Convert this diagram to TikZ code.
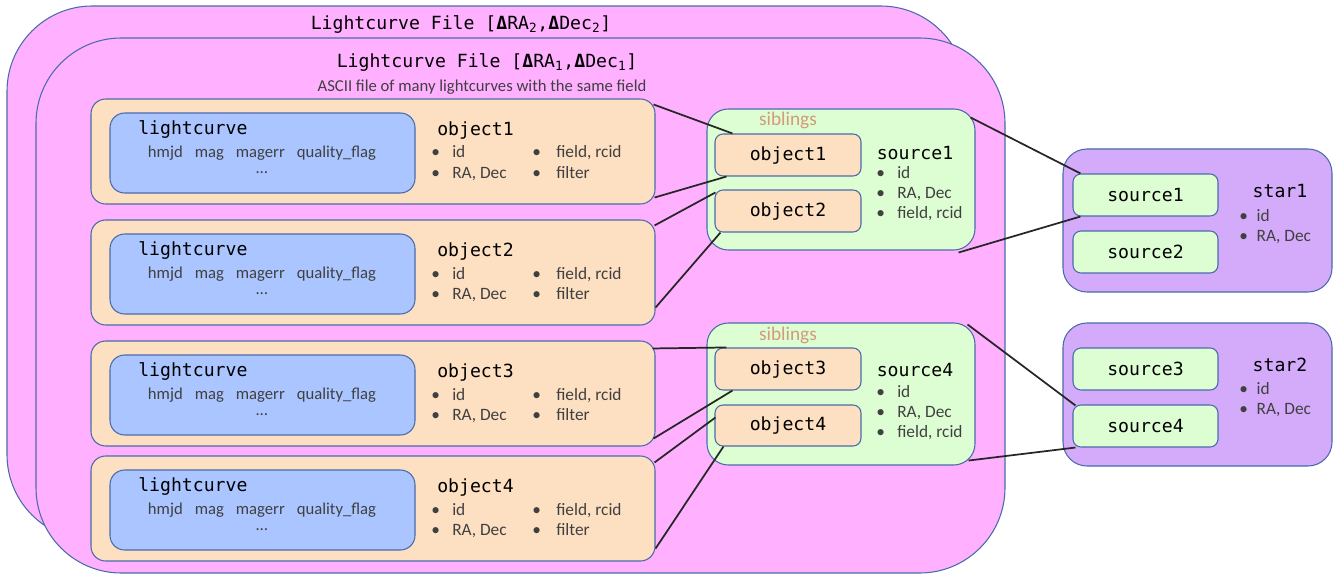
\documentclass[tikz,border=0pt]{standalone}
\usepackage{fontspec}
\setmainfont{Carlito}
\newfontfamily\monof{DejaVu Sans Mono}
\usetikzlibrary{fit,calc}
\definecolor{bord}{HTML}{4A6BAA}
\definecolor{pinkf}{HTML}{FFB0FF}
\definecolor{peach}{HTML}{FDDFC2}
\definecolor{bluef}{HTML}{AAC5FF}
\definecolor{greenf}{HTML}{DDFDD3}
\definecolor{purplef}{HTML}{D4AAFA}
\definecolor{txtgray}{HTML}{404040}
\definecolor{sibcol}{HTML}{D49A7A}
\setlength{\tabcolsep}{0pt}
\tikzset{
  box/.style={draw=bord, line width=0.8pt, inner sep=0pt},
  filebox/.style={box, fill=pinkf, rounded corners=64pt},
  rowbox/.style={box, fill=peach, rounded corners=11pt},
  lcbox/.style={box, fill=bluef, rounded corners=11pt},
  grbox/.style={box, fill=greenf, rounded corners=16pt},
  obbox/.style={box, fill=peach, rounded corners=6pt},
  stbox/.style={box, fill=purplef, rounded corners=18pt},
  srbox/.style={box, fill=greenf, rounded corners=6pt},
  mono/.style={font=\monof\fontsize{13.6}{16}\selectfont, text=black, inner sep=0pt},
  txt/.style={font=\fontsize{12.5}{15}\selectfont, text=txtgray, inner sep=0pt},
  btxt/.style={font=\fontsize{13}{15}\selectfont, text=txtgray, inner sep=0pt},
  subt/.style={font=\fontsize{12.5}{14}\selectfont, text=txtgray, inner sep=0pt},
  sibt/.style={font=\fontsize{14.5}{15}\selectfont, text=sibcol, inner sep=0pt},
  link/.style={line width=1.3pt, draw=black!85},
}
\newcommand{\twocol}[4]{\begin{tabular}[t]{@{}p{15.75pt}p{60pt}p{18pt}l@{}}•&#1&•&#3\\•&#2&•&#4\end{tabular}}
\begin{document}
\begin{tikzpicture}[x=0.75pt,y=-0.75pt]
\useasboundingbox (0,0) rectangle (1334,574);
% files
\node[filebox, fit={(7,6)(966,540)}] (fileB) {};
\node[mono] (fileBt) at (461,25) {Lightcurve File [\textbf{Δ}RA\textsubscript{2},\textbf{Δ}Dec\textsubscript{2}]};
\node[filebox, fit={(36,38)(1005,573)}] (fileA) {};
\node[mono] (fileAt) at (487,63) {Lightcurve File [\textbf{Δ}RA\textsubscript{1},\textbf{Δ}Dec\textsubscript{1}]};
\node[subt] (fileAs) at (482,87) {ASCII file of many lightcurves with the same field};
% object rows
\foreach \i/\t in {1/99,2/220,3/341,4/456}{
  \pgfmathsetmacro{\b}{\t+105}
  \pgfmathsetmacro{\lt}{\t+14}
  \pgfmathsetmacro{\lb}{\t+94}
  \pgfmathsetmacro{\ya}{\t+31}
  \pgfmathsetmacro{\yb}{\t+54}
  \pgfmathsetmacro{\yc}{\t+74}
  \pgfmathsetmacro{\yd}{\t+59}
  \node[rowbox, fit={(91,\t)(655,\b)}] (row\i) {};
  \node[lcbox, fit={(110,\lt)(415,\lb)}] (lc\i) {};
  \node[mono, anchor=west] (lct\i) at (138,\ya) {lightcurve};
  \node[txt] (lcf\i) at (262,\yb) {hmjd\hspace{9pt}mag\hspace{9pt}magerr\hspace{9pt}quality\_flag};
  \node[txt] (lcd\i) at (262,\yc) {…};
  \node[mono, anchor=west] (obt\i) at (437,\ya) {object\i};
  \node[btxt, anchor=base west] (oba\i) at (431,\yd) {\twocol{id}{RA, Dec}{field, rcid}{filter}};
}
% sibling groups
\node[grbox, fit={(707,109)(975,250)}] (g1) {};
\node[sibt] (sib1) at (788,120) {siblings};
\node[obbox, fit={(715,134)(861,176)}] (ob1) {};
\node[mono] (ob1t) at (ob1.center) {object1};
\node[obbox, fit={(715,190)(861,232)}] (ob2) {};
\node[mono] (ob2t) at (ob2.center) {object2};
\node[mono] (src1t) at (915,153) {source1};
\node[btxt, anchor=base west] (src1a) at (876,178) {\begin{tabular}[t]{@{}p{15.75pt}l@{}}•&id\\•&RA, Dec\\•&field, rcid\end{tabular}};

\node[grbox, fit={(707,323)(975,465)}] (g2) {};
\node[sibt] (sib2) at (788,335) {siblings};
\node[obbox, fit={(715,348)(861,390)}] (ob3) {};
\node[mono] (ob3t) at (ob3.center) {object3};
\node[obbox, fit={(715,405)(861,446)}] (ob4) {};
\node[mono] (ob4t) at (ob4.center) {object4};
\node[mono] (src4t) at (915,370) {source4};
\node[btxt, anchor=base west] (src4a) at (876,397) {\begin{tabular}[t]{@{}p{15.75pt}l@{}}•&id\\•&RA, Dec\\•&field, rcid\end{tabular}};

% stars
\node[stbox, fit={(1063,149)(1332,292)}] (st1) {};
\node[srbox, fit={(1073,174)(1218,216)}] (s1) {};
\node[mono] (s1t) at (s1.center) {source1};
\node[srbox, fit={(1073,231)(1218,273)}] (s2) {};
\node[mono] (s2t) at (s2.center) {source2};
\node[mono] (st1t) at (1280,191) {star1};
\node[btxt, anchor=base west] (st1a) at (1239,221) {\begin{tabular}[t]{@{}p{13pt}l@{}}•&id\\•&RA, Dec\end{tabular}};

\node[stbox, fit={(1063,323)(1332,466)}] (st2) {};
\node[srbox, fit={(1073,348)(1218,390)}] (s3) {};
\node[mono] (s3t) at (s3.center) {source3};
\node[srbox, fit={(1073,405)(1218,447)}] (s4) {};
\node[mono] (s4t) at (s4.center) {source4};
\node[mono] (st2t) at (1280,365) {star2};
\node[btxt, anchor=base west] (st2a) at (1239,394) {\begin{tabular}[t]{@{}p{13pt}l@{}}•&id\\•&RA, Dec\end{tabular}};

% connectors rows -> objects
\draw[link] ([shift={(-2,6)}]row1.north east) -- ([shift={(18,0)}]ob1.north west);
\draw[link] ([shift={(-1,-7)}]row1.south east) -- ([shift={(12,0)}]ob1.south west);
\draw[link] ([shift={(-1,6)}]row2.north east) -- ([shift={(1,3)}]ob2.north west);
\draw[link] ([shift={(0,-18)}]row2.south east) -- ([shift={(6,0)}]ob2.south west);
\draw[link] ([shift={(-3,8)}]row3.north east) -- ([shift={(12,0)}]ob3.north west);
\draw[link] ([shift={(-2,-8)}]row3.south east) -- ([shift={(18,0)}]ob3.south west);
\draw[link] ([shift={(-1,7)}]row4.north east) -- ([shift={(1,13)}]ob4.north west);
\draw[link] ([shift={(0,-13)}]row4.south east) -- ([shift={(9,0)}]ob4.south west);
% groups -> stars
\draw[link] ([shift={(-5,9)}]g1.north east) -- ([shift={(8,0)}]s1.north west);
\draw[link] ([shift={(-17,2)}]g1.south east) -- ([shift={(8,0)}]s1.south west);
\draw[link] ([shift={(-8,2)}]g2.north east) -- ([shift={(3,1)}]s4.north west);
\draw[link] ([shift={(-7,-5)}]g2.south east) -- ([shift={(3,0)}]s4.south west);
\end{tikzpicture}
\end{document}
